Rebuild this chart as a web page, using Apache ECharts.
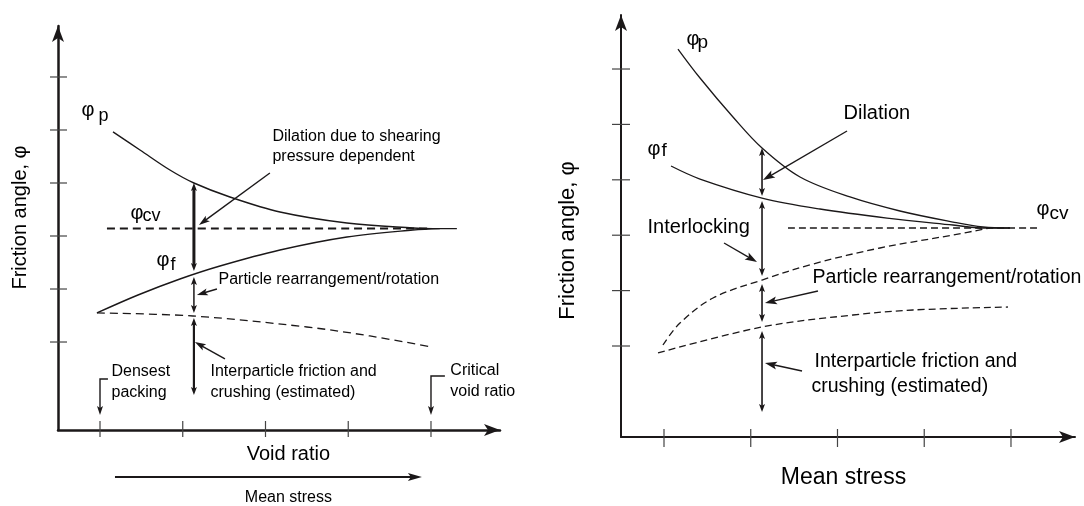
<!DOCTYPE html>
<html>
<head>
<meta charset="utf-8">
<script src="https://cdn.jsdelivr.net/npm/echarts@6/dist/echarts.min.js"></script>
<style>
  html, body { margin: 0; padding: 0; background: #fff; }
  #chart { width: 1084px; height: 506px; }
</style>
</head>
<body>
<div id="chart"></div>
<script>
// ---------- Left panel: friction angle against void ratio ----------
const leftTicksX = [1, 2, 3, 4, 5];
const leftTicksY = [1, 2, 3, 4, 5, 6];
const leftPeakX = [1.157, 1.483, 1.845, 2.135, 2.570, 3.175, 3.984, 4.781, 5.023, 5.313];
const leftPeakY = [4.963, 4.623, 4.245, 4.000, 3.736, 3.453, 3.245, 3.151, 3.140, 3.140];
const leftFreeX = [0.963, 1.459, 1.966, 2.450, 3.175, 3.984, 4.781, 5.107];
const leftFreeY = [1.548, 1.887, 2.189, 2.434, 2.736, 2.982, 3.113, 3.140];
const leftBaseX = [0.963, 2.123, 3.500, 4.262, 5.010];
const leftBaseY = [1.548, 1.491, 1.283, 1.114, 0.906];
const leftCvX = [1.084, 5.011];
const leftCv = 3.14;

// ---------- Right panel: friction angle against mean stress ----------
const rightTicksX = [1, 2, 3, 4, 5];
const rightTicksY = [1, 2, 3, 4, 5, 6];
const rightPeakX = [1.161, 1.415, 1.795, 2.130, 2.568, 3.144, 3.720, 4.331, 4.677, 4.988];
const rightPeakY = [6.361, 5.838, 5.134, 4.574, 4.051, 3.690, 3.437, 3.238, 3.148, 3.130];
const rightFreeX = [1.081, 1.415, 2.130, 2.798, 3.571, 4.331, 4.677, 4.988];
const rightFreeY = [4.249, 4.014, 3.671, 3.473, 3.310, 3.184, 3.130, 3.130];
const rightInterX = [0.988, 1.184, 1.565, 2.130, 2.717, 3.490, 4.331, 4.758];
const rightInterY = [1.018, 1.415, 1.866, 2.191, 2.480, 2.769, 3.004, 3.130];
const rightBaseX = [0.931, 2.130, 3.179, 3.870, 4.965];
const rightBaseY = [0.874, 1.343, 1.560, 1.650, 1.704];
const rightCvX = [2.429, 5.334];
const rightCv = 3.13;

// axis windows (value units)
const L = { xMin: 0.4924, xMax: 5.834, yMin: -0.660, yMax: 6.962 };
const R = { xMin: 0.5043, xMax: 5.738, yMin: -0.6426, yMax: 6.975 };

// component spans drawn along the vertical measuring line [x1, y1, x2, y2]
const leftSpans = [
  [2.135, 4.000, 2.135, 2.340],
  [2.135, 2.227, 2.135, 1.548],
  [2.135, 1.453, 2.135, 0.000]
];
const leftSpanWidths = [3, 1.5, 2.2];
const leftPointers = [
  [3.053, 4.189, 2.196, 3.208],
  [2.413, 2.000, 2.171, 1.887],
  [2.510, 0.680, 2.147, 1.000]
];
// bracket arrows: [xStart, xCorner, yStart, yEnd]
const leftBrackets = [
  [1.096, 1.000, 0.302, -0.377],
  [5.168, 5.000, 0.359, -0.377]
];
const leftStressArrow = [[1.181, -1.547, 4.890, -1.547]];

const rightSpans = [
  [2.130, 4.574, 2.130, 3.708],
  [2.130, 3.617, 2.130, 2.264],
  [2.130, 2.119, 2.130, 1.433],
  [2.130, 1.271, 2.130, -0.191]
];
const rightPointers = [
  [3.110, 4.881, 2.141, 3.996],
  [1.692, 2.859, 2.072, 2.516],
  [2.775, 1.993, 2.164, 1.776],
  [2.591, 0.549, 2.164, 0.693]
];

const INK = '#1b1819';
const FONT = '"Liberation Sans", Arial, Helvetica, sans-serif';

const zip = (xs, ys) => xs.map((x, i) => [x, ys[i]]);

function headPoints(tip, from, len, wid) {
  const dx = tip[0] - from[0], dy = tip[1] - from[1];
  const d = Math.hypot(dx, dy) || 1;
  const ux = dx / d, uy = dy / d, nx = -uy, ny = ux;
  const bx = tip[0] - ux * len, by = tip[1] - uy * len;
  const mx = tip[0] - ux * len * 0.78, my = tip[1] - uy * len * 0.78;
  return [[tip[0], tip[1]], [bx + nx * wid / 2, by + ny * wid / 2], [mx, my], [bx - nx * wid / 2, by - ny * wid / 2]];
}

function arrowSeries(idx, segs, o) {
  return {
    type: 'custom', xAxisIndex: idx, yAxisIndex: idx, clip: false, silent: true, z: 6,
    data: segs,
    renderItem(params, api) {
      const a = api.coord([api.value(0), api.value(1)]);
      const b = api.coord([api.value(2), api.value(3)]);
      const w = o.widths ? o.widths[params.dataIndex] : o.width;
      const d = Math.hypot(b[0] - a[0], b[1] - a[1]) || 1;
      const ux = (b[0] - a[0]) / d, uy = (b[1] - a[1]) / d;
      const back = o.len * 0.7;
      const s = o.both ? [a[0] + ux * back, a[1] + uy * back] : a;
      const e = [b[0] - ux * back, b[1] - uy * back];
      const children = [
        { type: 'line', shape: { x1: s[0], y1: s[1], x2: e[0], y2: e[1] }, style: { stroke: INK, lineWidth: w } },
        { type: 'polygon', shape: { points: headPoints(b, a, o.len, o.wid) }, style: { fill: INK } }
      ];
      if (o.both) children.push({ type: 'polygon', shape: { points: headPoints(a, b, o.len, o.wid) }, style: { fill: INK } });
      return { type: 'group', children };
    }
  };
}

function bracketSeries(idx, items) {
  return {
    type: 'custom', xAxisIndex: idx, yAxisIndex: idx, clip: false, silent: true, z: 6,
    data: items,
    renderItem(params, api) {
      const p0 = api.coord([api.value(0), api.value(2)]);
      const p1 = api.coord([api.value(1), api.value(2)]);
      const p2 = api.coord([api.value(1), api.value(3)]);
      const len = 9, wid = 6;
      return {
        type: 'group', children: [
          { type: 'polyline', shape: { points: [p0, p1, [p2[0], p2[1] - len * 0.7]] }, style: { stroke: INK, lineWidth: 1.4, fill: null } },
          { type: 'polygon', shape: { points: headPoints(p2, p1, len, wid) }, style: { fill: INK } }
        ]
      };
    }
  };
}

function tickSeries(idx, values, axis, base, before, after) {
  return {
    type: 'custom', xAxisIndex: idx, yAxisIndex: idx, clip: false, silent: true, z: 4,
    data: values.map(v => [v]),
    renderItem(params, api) {
      const v = api.value(0);
      let shape;
      if (axis === 'x') {
        const p = api.coord([v, base]);
        shape = { x1: p[0], y1: p[1] - before, x2: p[0], y2: p[1] + after };
      } else {
        const p = api.coord([base, v]);
        shape = { x1: p[0] - before, y1: p[1], x2: p[0] + after, y2: p[1] };
      }
      return { type: 'line', shape, style: { stroke: '#444', lineWidth: 1.2 } };
    }
  };
}

function curve(idx, xs, ys, width, dash) {
  return {
    type: 'line', xAxisIndex: idx, yAxisIndex: idx, data: zip(xs, ys),
    showSymbol: false, smooth: 0.35, silent: true, z: 3,
    lineStyle: { color: INK, width, type: dash || 'solid' }
  };
}

// text annotations: [x, y, text, fontSize, align, rotate]
const leftNotes = [
  [0.782, 5.359, 'φ', 20], [0.988, 5.246, 'p', 18],
  [1.374, 3.415, 'φ', 20], [1.519, 3.359, 'cv', 18],
  [1.688, 2.529, 'φ', 20], [1.858, 2.434, 'f', 18],
  [3.090, 4.868, 'Dilation due to shearing', 16],
  [3.090, 4.491, 'pressure dependent', 16],
  [2.438, 2.170, 'Particle rearrangement/rotation', 16],
  [2.341, 0.434, 'Interparticle friction and', 16],
  [2.341, 0.038, 'crushing (estimated)', 16],
  [1.145, 0.434, 'Densest', 16],
  [1.145, 0.038, 'packing', 16],
  [5.240, 0.453, 'Critical', 16],
  [5.240, 0.057, 'void ratio', 16],
  [3.283, -1.132, 'Void ratio', 20, 'center'],
  [3.283, -1.943, 'Mean stress', 16, 'center'],
  [0.045, 3.340, 'Friction angle, φ', 20, 'center', 90]
];
const rightNotes = [
  [1.265, 6.523, 'φ', 20], [1.392, 6.469, 'p', 19],
  [0.816, 4.538, 'φ', 20], [0.977, 4.520, 'f', 19],
  [5.300, 3.455, 'φ', 20], [5.450, 3.383, 'cv', 19],
  [3.075, 5.188, 'Dilation', 20],
  [0.816, 3.130, 'Interlocking', 20],
  [2.718, 2.227, 'Particle rearrangement/rotation', 19.5],
  [2.741, 0.711, 'Interparticle friction and', 19.5],
  [2.706, 0.260, 'crushing (estimated)', 19.5],
  [3.075, -1.383, 'Mean stress', 23, 'center'],
  [-0.107, 2.895, 'Friction angle, φ', 22, 'center', 90]
];

function noteSeries(idx, notes) {
  return {
    type: 'scatter', xAxisIndex: idx, yAxisIndex: idx, clip: false, silent: true, z: 7,
    symbolSize: 1, itemStyle: { color: 'rgba(0,0,0,0)' },
    data: notes.map(n => ({
      value: [n[0], n[1]],
      label: {
        show: true, formatter: n[2], position: [0, 0],
        align: n[4] || 'left', verticalAlign: 'middle', rotate: n[5] || 0,
        fontSize: n[3], fontFamily: FONT, color: '#000', opacity: 1
      }
    }))
  };
}

function axisPair(idx, win, w) {
  const line = (size) => ({
    show: true, onZero: false, symbol: ['none', 'arrow'], symbolSize: size,
    lineStyle: { color: INK, width: w }
  });
  return {
    x: { type: 'value', gridIndex: idx, min: win.xMin, max: win.xMax, axisLine: line([9, 16]),
         axisTick: { show: false }, axisLabel: { show: false }, splitLine: { show: false } },
    y: { type: 'value', gridIndex: idx, min: win.yMin, max: win.yMax, axisLine: line([9, 16]),
         axisTick: { show: false }, axisLabel: { show: false }, splitLine: { show: false } }
  };
}

const A0 = axisPair(0, L, 2.5), A1 = axisPair(1, R, 2);

const option = {
  animation: false,
  backgroundColor: '#ffffff',
  grid: [
    { left: 58, top: 26, width: 442, height: 404 },
    { left: 621, top: 15, width: 454, height: 422 }
  ],
  xAxis: [A0.x, A1.x],
  yAxis: [A0.y, A1.y],
  series: [
    tickSeries(0, leftTicksX, 'x', L.yMin, 9, 7),
    tickSeries(0, leftTicksY, 'y', L.xMin, 8, 9),
    curve(0, leftPeakX, leftPeakY, 1.4),
    curve(0, leftFreeX, leftFreeY, 1.4),
    curve(0, leftBaseX, leftBaseY, 1.3, [8, 5]),
    curve(0, leftCvX, leftCvX.map(() => leftCv), 2, [8, 5]),
    arrowSeries(0, leftSpans, { widths: leftSpanWidths, both: true, len: 8, wid: 6 }),
    arrowSeries(0, leftPointers, { width: 1.4, both: false, len: 11, wid: 7 }),
    bracketSeries(0, leftBrackets),
    arrowSeries(0, leftStressArrow, { width: 2.2, both: false, len: 14, wid: 8 }),
    noteSeries(0, leftNotes),

    tickSeries(1, rightTicksX, 'x', R.yMin, 8, 10),
    tickSeries(1, rightTicksY, 'y', R.xMin, 9, 9),
    curve(1, rightPeakX, rightPeakY, 1.3),
    curve(1, rightFreeX, rightFreeY, 1.3),
    curve(1, rightInterX, rightInterY, 1.3, [7, 4]),
    curve(1, rightBaseX, rightBaseY, 1.3, [7, 4]),
    curve(1, rightCvX, rightCvX.map(() => rightCv), 1.6, [7, 4]),
    arrowSeries(1, rightSpans, { width: 1.6, both: true, len: 8, wid: 6 }),
    arrowSeries(1, rightPointers, { width: 1.4, both: false, len: 12, wid: 8 }),
    noteSeries(1, rightNotes)
  ]
};

const chart = echarts.init(document.getElementById('chart'), null, { renderer: 'canvas' });
chart.setOption(option);
</script>
</body>
</html>
